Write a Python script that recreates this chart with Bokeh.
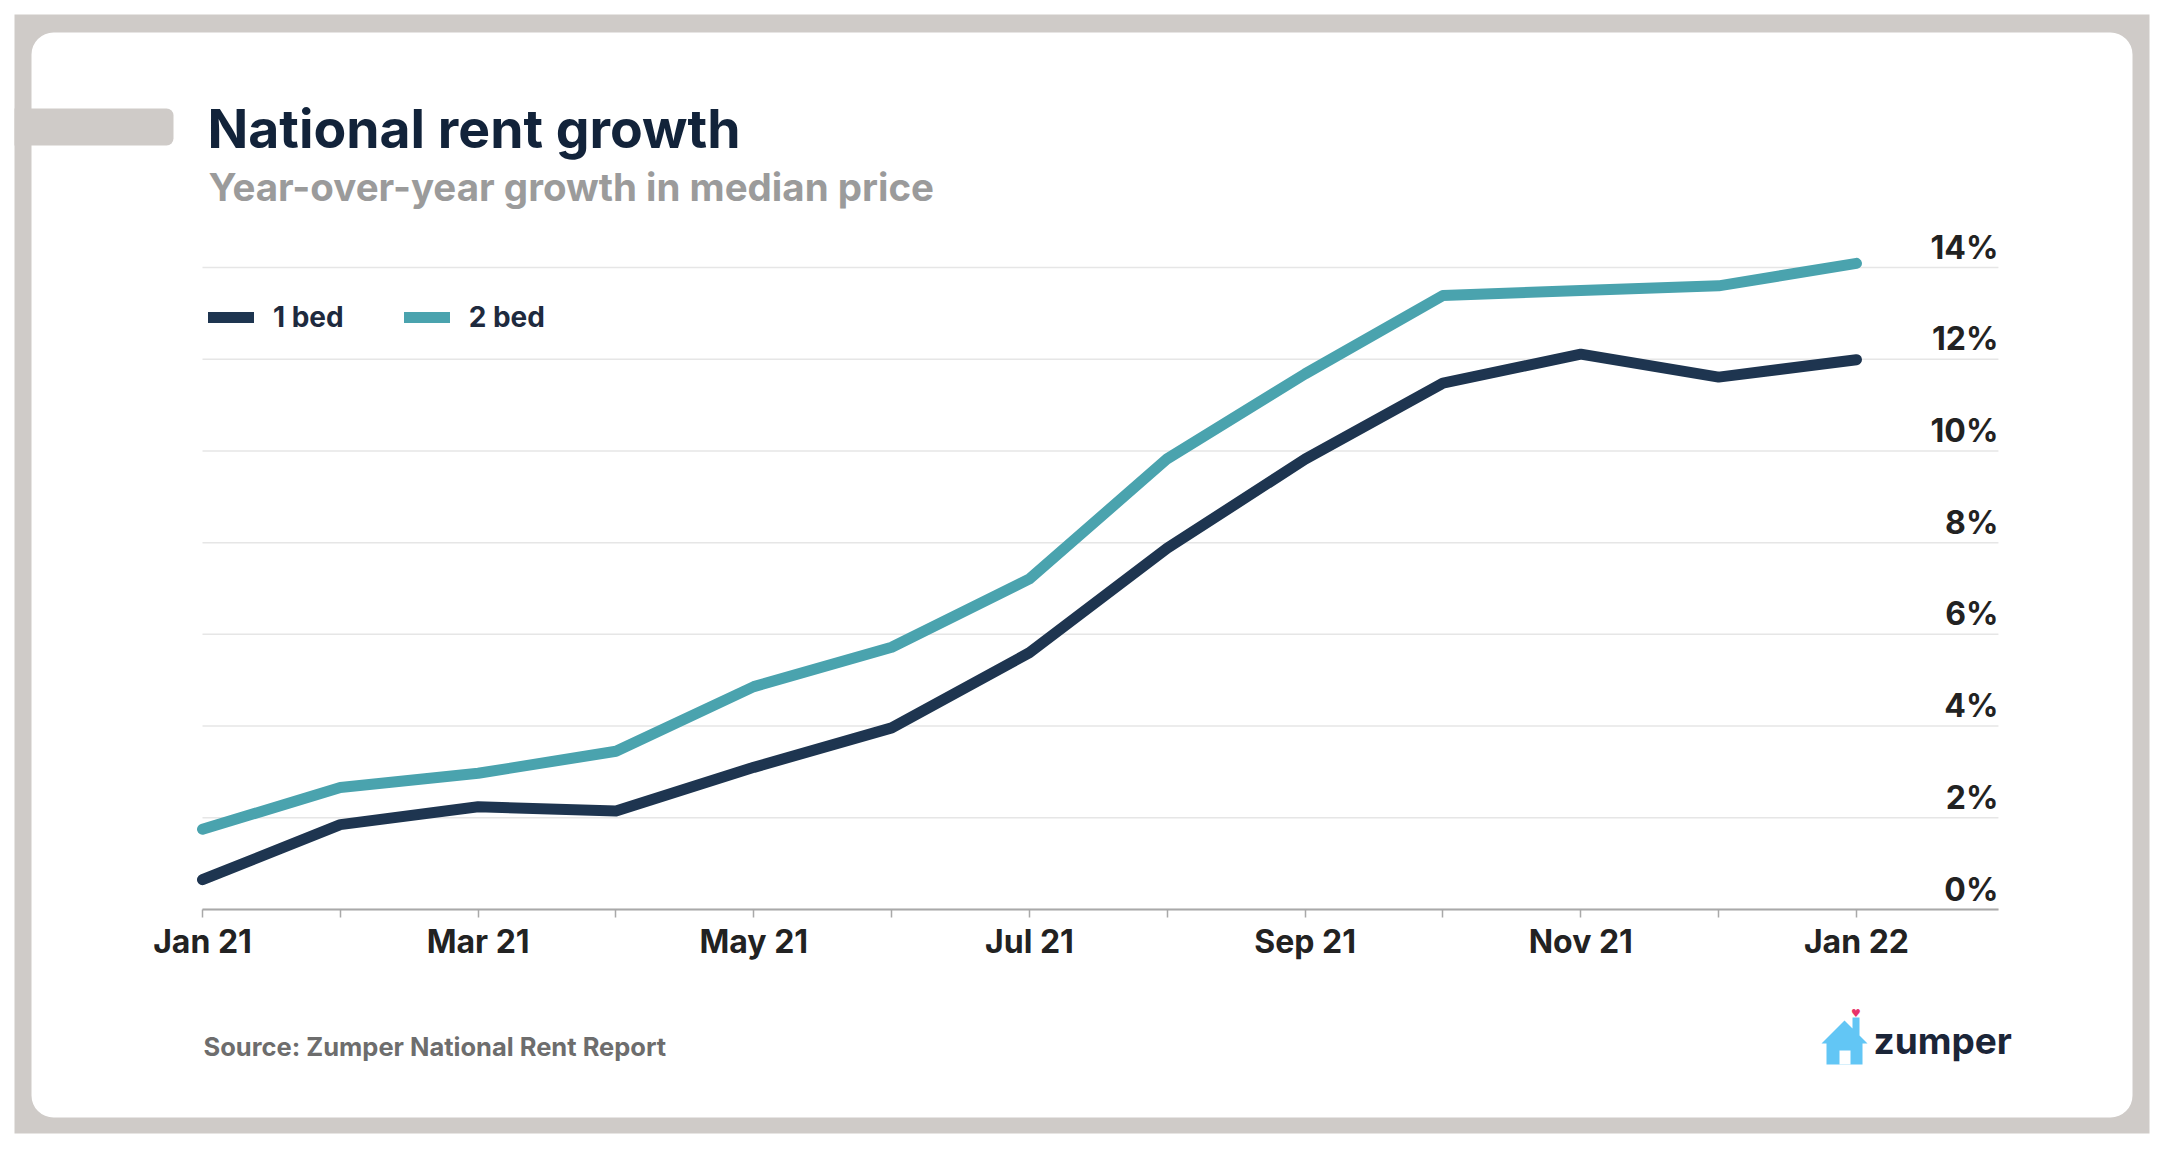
from bokeh.plotting import figure
from bokeh.models import (Range1d, FixedTicker, BoxAnnotation, PolyAnnotation,
                          Label, Legend, LegendItem, ColumnDataSource)
from bokeh.core.properties import value
from bokeh.embed import file_html
from bokeh.resources import INLINE

# ---------------- data ----------------
months = ["Jan 21", "Feb 21", "Mar 21", "Apr 21", "May 21", "Jun 21", "Jul 21",
          "Aug 21", "Sep 21", "Oct 21", "Nov 21", "Dec 21", "Jan 22"]
one_bed = [0.65, 1.85, 2.24, 2.15, 3.10, 3.96, 5.60, 7.88, 9.82, 11.48, 12.11, 11.61, 11.99]
two_bed = [1.75, 2.66, 2.97, 3.45, 4.86, 5.72, 7.21, 9.83, 11.68, 13.39, 13.50, 13.60, 14.09]
y_ticks = [0, 2, 4, 6, 8, 10, 12, 14]
y_tick_labels = ["0%", "2%", "4%", "6%", "8%", "10%", "12%", "14%"]
series_names = ["1 bed", "2 bed"]

# ---------------- layout / styles ----------------
NAVY = "#1e3550"
TEAL = "#4aa3ae"
GRAY_FRAME = "#cfcbc8"
FONT = "Inter"

W, H = 2160, 1140
ORIGIN_X, ORIGIN_Y = 202, 909          # canvas pixel of (Jan 21, 0%)
PX_PER_MONTH = 137.83
PX_PER_PCT = 45.857
PLOT_X_END = 13.03                      # right end of plot area (data units)

x_start = -ORIGIN_X / PX_PER_MONTH
x_end = (W - ORIGIN_X) / PX_PER_MONTH
y_start = -(H - ORIGIN_Y) / PX_PER_PCT
y_end = ORIGIN_Y / PX_PER_PCT

p = figure(width=W, height=H, output_backend="svg", toolbar_location=None,
           x_range=Range1d(x_start, x_end), y_range=Range1d(y_start, y_end),
           y_axis_location=None, x_axis_location="below",
           min_border_left=0, min_border_right=0, min_border_top=0, min_border_bottom=0,
           background_fill_color="white", border_fill_color="white",
           outline_line_color=None)
p.title.visible = False
p.xgrid.visible = False
p.ygrid.visible = False


def sx(ox):
    return ox


def sy(oy):
    return H - oy


# ---------------- background card ----------------
def box(l, r, t, b, color, radius=0, level="image"):
    return BoxAnnotation(left=sx(l), right=sx(r), top=sy(t), bottom=sy(b),
                         left_units="screen", right_units="screen",
                         top_units="screen", bottom_units="screen",
                         fill_color=color, fill_alpha=1.0, line_color=None,
                         border_radius=radius, level=level)


p.add_layout(box(14, 2149, 14, 1133, GRAY_FRAME))
p.add_layout(box(31, 2132, 32, 1117, "white", radius=22))
p.add_layout(box(14, 173, 108, 145, GRAY_FRAME, radius=(0, 7, 7, 0)))

# ---------------- grid lines ----------------
p.segment(x0=[0] * len(y_ticks), x1=[PLOT_X_END] * len(y_ticks), y0=y_ticks, y1=y_ticks,
          line_color="#e6e6e6", line_width=1.5)

# ---------------- x axis (drawn at y = 0) ----------------
xa = p.xaxis[0]
xa.fixed_location = 0
xa.bounds = (0, PLOT_X_END)
xa.ticker = FixedTicker(ticks=list(range(len(months))))
xa.major_label_overrides = {i: (m if i % 2 == 0 else "") for i, m in enumerate(months)}
xa.axis_line_color = "#a9a9a9"
xa.axis_line_width = 2
xa.major_tick_line_color = "#a9a9a9"
xa.major_tick_line_width = 1.5
xa.major_tick_out = 8
xa.major_tick_in = 0
xa.minor_tick_line_color = None
xa.major_label_standoff = 4
xa.major_label_text_font = FONT
xa.major_label_text_font_style = "bold"
xa.major_label_text_font_size = "32px"
xa.major_label_text_color = "#222222"

# ---------------- y tick labels (inside, above grid lines) ----------------
LABEL_LIFT = 20.5 / PX_PER_PCT
ylab = ColumnDataSource(dict(x=[PLOT_X_END] * len(y_ticks),
                             y=[t + LABEL_LIFT for t in y_ticks], t=y_tick_labels))
p.text(x="x", y="y", text="t", source=ylab, text_align="right",
       text_baseline="middle",
       text_font=value(FONT), text_font_style="bold", text_font_size="32px",
       text_color="#222222")

# ---------------- lines ----------------
x_idx = list(range(len(months)))
r1 = p.line(x_idx, one_bed, line_width=11, line_color=NAVY, line_cap="round", line_join="round")
r2 = p.line(x_idx, two_bed, line_width=11, line_color=TEAL, line_cap="round", line_join="round")

legend = Legend(items=[LegendItem(label=series_names[0], renderers=[r1]),
                       LegendItem(label=series_names[1], renderers=[r2])],
                location=(208, sy(334)), orientation="horizontal",
                glyph_width=46, glyph_height=30, label_height=30,
                label_standoff=19, spacing=60, padding=0, margin=0,
                border_line_color=None, background_fill_alpha=0,
                label_text_font=FONT, label_text_font_style="bold",
                label_text_font_size="28px", label_text_color="#1e2a3e")
p.add_layout(legend)

# ---------------- texts ----------------
def label(x, y, text, size, color, font=FONT, style="bold", align="left"):
    return Label(x=sx(x), y=sy(y), x_units="screen", y_units="screen", text=text,
                 text_font=font, text_font_style=style, text_font_size=size,
                 text_color=color, text_baseline="middle", text_align=align)


p.add_layout(label(207, 128, "National rent growth", "53.5px", "#12233a"))
p.add_layout(label(208, 186, "Year-over-year growth in median price", "38.5px", "#9b9b9b"))
p.add_layout(label(203, 1045.5, "Source: Zumper National Rent Report", "25.5px", "#6d6d6d"))

# ---------------- zumper logo ----------------
house_x = [1844, 1852, 1852, 1859, 1859, 1867, 1862, 1862, 1826, 1826, 1821]
house_y = [1020, 1028, 1017, 1017, 1035, 1043, 1043, 1064, 1064, 1043, 1043]
p.add_layout(PolyAnnotation(xs=[sx(v) for v in house_x], ys=[sy(v) for v in house_y],
                            xs_units="screen", ys_units="screen",
                            fill_color="#62c6f5", fill_alpha=1.0, line_color=None))
p.add_layout(box(1839, 1850, 1050, 1064, "white", level="annotation"))
p.add_layout(label(1855.5, 1013, "\u2665", "11px", "#e8336b", font="DejaVu Sans",
                   style="normal", align="center"))
p.add_layout(label(1873, 1040, "zumper", "37px", "#1b2538"))

open("out.html", "w").write(file_html(p, INLINE))
